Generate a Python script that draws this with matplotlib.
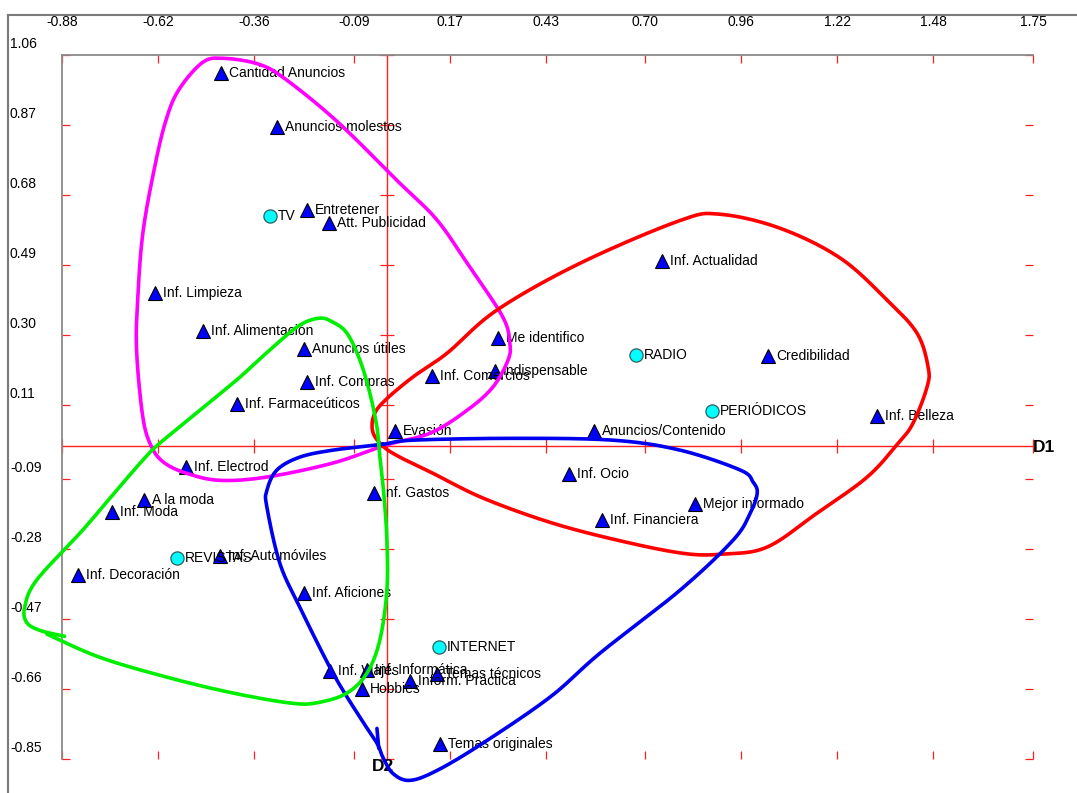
import numpy as np
import matplotlib
matplotlib.use('Agg')
import matplotlib.pyplot as plt
from matplotlib.lines import Line2D

plt.rcParams['font.family'] = ['Liberation Sans', 'DejaVu Sans']

# --- datos: categorias (triangulos) ---
cat_names = ['Cantidad Anuncios', 'Anuncios molestos', 'Entretener', 'Att. Publicidad',
             'Inf. Limpieza', 'Inf. Alimentación', 'Anuncios útiles', 'Inf. Compras',
             'Inf. Farmaceúticos', 'Evasión', 'Inf. Comercios', 'Me identifico',
             'Indispensable', 'Inf. Actualidad', 'Credibilidad', 'Anuncios/Contenido',
             'Inf. Belleza', 'Inf. Ocio', 'Inf. Gastos', 'Mejor informado',
             'Inf. Financiera', 'Inf. Electrod', 'A la moda', 'Inf. Moda',
             'Inf. Automóviles', 'Inf. Decoración', 'Inf. Aficiones', 'Inf. Viajes',
             'Inf. Informática', 'Hobbies', 'Inform. Práctica', 'Temas técnicos',
             'Temas originales']
cat_x = [-0.450, -0.298, -0.217, -0.157, -0.629, -0.499, -0.225, -0.217,
         -0.407, 0.022, 0.122, 0.301, 0.293, 0.745, 1.033, 0.561,
         1.328, 0.493, -0.035, 0.835, 0.583, -0.545, -0.659, -0.745,
         -0.453, -0.837, -0.225, -0.154, -0.054, -0.068, 0.062, 0.136,
         0.144]
cat_y = [1.010, 0.864, 0.639, 0.604, 0.414, 0.311, 0.262, 0.172,
         0.113, 0.039, 0.189, 0.292, 0.202, 0.500, 0.243, 0.039,
         0.080, -0.077, -0.129, -0.159, -0.202, -0.058, -0.148, -0.180,
         -0.300, -0.351, -0.400, -0.612, -0.609, -0.661, -0.639, -0.620,
         -0.810]

# --- medios (circulos) ---
media_names = ['TV', 'RADIO', 'PERIÓDICOS', 'REVISTAS', 'INTERNET']
media_x = [-0.317, 0.675, 0.881, -0.569, 0.141]
media_y = [0.623, 0.246, 0.094, -0.305, -0.546]

# --- ejes ---
x_labels = ['-0.88', '-0.62', '-0.36', '-0.09', '0.17', '0.43', '0.70', '0.96', '1.22', '1.48', '1.75']
y_labels = ['1.06', '0.87', '0.68', '0.49', '0.30', '0.11', '-0.09', '-0.28', '-0.47', '-0.66', '-0.85']
x_ticks = [float(v) for v in x_labels]
y_ticks = [float(v) for v in y_labels]

# --- contornos dibujados a mano ---
mag_x = [-0.005, 0.117, 0.217, 0.287, 0.328, 0.333, 0.314, 0.225, 0.136, 0.035, -0.133, -0.274,
         -0.347, -0.442, -0.499, -0.564, -0.599, -0.629, -0.661, -0.675, -0.678, -0.661, -0.637,
         -0.602, -0.542, -0.453, -0.325, -0.146]
mag_y = [0.001, 0.034, 0.096, 0.159, 0.232, 0.278, 0.349, 0.484, 0.612, 0.712, 0.878, 0.994,
         1.035, 1.051, 1.040, 0.965, 0.881, 0.756, 0.577, 0.395, 0.259, 0.077, -0.004,
         -0.047, -0.075, -0.094, -0.085, -0.047]

red_x = [-0.011, -0.038, -0.035, -0.005, 0.070, 0.163, 0.298, 0.523, 0.794, 0.902, 1.065, 1.228,
         1.355, 1.436, 1.466, 1.463, 1.425, 1.385, 1.301, 1.165, 1.030, 0.911, 0.802, 0.623,
         0.442, 0.260, 0.125, 0.035]
red_y = [-0.001, 0.037, 0.083, 0.123, 0.186, 0.251, 0.368, 0.495, 0.611, 0.628, 0.590, 0.509,
         0.395, 0.305, 0.213, 0.159, 0.061, 0.007, -0.085, -0.183, -0.275, -0.294, -0.292, -0.256,
         -0.208, -0.142, -0.075, -0.031]

blue_x = [-0.011, -0.146, -0.236, -0.298, -0.325, -0.325, -0.290, -0.236, -0.146, -0.073, -0.027,
          -0.011, 0.016, 0.062, 0.136, 0.260, 0.442, 0.577, 0.794, 0.938, 0.984, 1.003, 0.992,
          0.957, 0.794, 0.612, 0.341, 0.070]
blue_y = [0.004, -0.012, -0.031, -0.066, -0.121, -0.167, -0.319, -0.438, -0.617, -0.737, -0.807,
          -0.845, -0.889, -0.908, -0.881, -0.807, -0.682, -0.563, -0.392, -0.256, -0.183, -0.129,
          -0.099, -0.066, -0.012, 0.015, 0.020, 0.015]
hook_x = [-0.027, -0.022]
hook_y = [-0.767, -0.821]

green_x = [-0.921, -0.778, -0.596, -0.417, -0.255, -0.182, -0.108, -0.054, -0.019, 0.000, 0.000,
           -0.008, -0.019, -0.027, -0.046, -0.073, -0.108, -0.146, -0.182, -0.236, -0.309, -0.398,
           -0.507, -0.615, -0.661, -0.732, -0.824, -0.949, -0.981, -0.976, -0.940, -0.873]
green_y = [-0.511, -0.574, -0.628, -0.671, -0.699, -0.696, -0.671, -0.617, -0.527, -0.392, -0.256,
           -0.134, -0.031, 0.050, 0.142, 0.232, 0.305, 0.335, 0.346, 0.327, 0.267, 0.186,
           0.096, 0.007, -0.039, -0.121, -0.229, -0.365, -0.438, -0.479, -0.501, -0.517]


def smooth(px, py, closed, n=24):
    p = np.column_stack([px, py])
    if closed:
        p = np.vstack([p[-1], p, p[0], p[1]])
    else:
        p = np.vstack([p[0], p, p[-1]])
    t = np.linspace(0, 1, n, endpoint=False)[:, None]
    out = []
    for i in range(1, len(p) - 2):
        p0, p1, p2, p3 = p[i - 1], p[i], p[i + 1], p[i + 2]
        out.append(0.5 * (2 * p1 + (-p0 + p2) * t + (2 * p0 - 5 * p1 + 4 * p2 - p3) * t ** 2
                          + (-p0 + 3 * p1 - 3 * p2 + p3) * t ** 3))
    out.append(p[-2][None])
    s = np.vstack(out)
    return s[:, 0], s[:, 1]


W, H = 1077, 793
fig = plt.figure(figsize=(W / 100, H / 100), dpi=100)
fig.patch.set_facecolor('white')
ax = fig.add_axes([62 / W, 34 / H, 971 / W, 704 / H])
ax.set_xlim(-0.88, 1.75)
ax.set_ylim(-0.85, 1.06)

for s in ['bottom', 'right']:
    ax.spines[s].set_visible(False)
for s in ['top', 'left']:
    ax.spines[s].set_color('#8a8a8a')
    ax.spines[s].set_linewidth(1.3)

ax.set_xticks(x_ticks)
ax.set_yticks(y_ticks)
ax.tick_params(which='both', direction='in', length=5.5, width=0.9, color='#ff2020',
               top=True, right=True, bottom=True, left=True,
               labeltop=False, labelbottom=False, labelleft=False, labelright=False)

for v, lab in zip(x_ticks, x_labels):
    ax.annotate(lab, xy=(v, 1), xycoords=('data', 'axes fraction'), xytext=(0, 33),
                textcoords='offset pixels', ha='center', va='center', fontsize=10,
                annotation_clip=False)
for v, lab in zip(y_ticks, y_labels):
    ax.annotate(lab, xy=(0, v), xycoords=('axes fraction', 'data'), xytext=(-52, 11),
                textcoords='offset pixels', ha='left', va='center', fontsize=10,
                annotation_clip=False)

# ejes D1 / D2
ax.axhline(0, color='#ff2020', lw=1.0, zorder=1)
ax.axvline(0, color='#ff2020', lw=1.0, zorder=1)
ax.plot(x_ticks, np.zeros(len(x_ticks)), ls='none', marker='|', ms=10, mew=0.9,
        color='#ff2020', zorder=1, clip_on=False)
ax.plot(np.zeros(len(y_ticks)), y_ticks, ls='none', marker='_', ms=10, mew=0.9,
        color='#ff2020', zorder=1, clip_on=False)
ax.annotate('D1', xy=(1.75, 0), xytext=(0, -2), textcoords='offset pixels',
            ha='left', va='center', fontsize=12.5, fontweight='bold', annotation_clip=False)
ax.annotate('D2', xy=(0, -0.85), xytext=(-4, 0), textcoords='offset pixels',
            ha='center', va='top', fontsize=12.5, fontweight='bold', annotation_clip=False)

# puntos
ax.plot(cat_x, cat_y, ls='none', marker='^', ms=10, mfc='#0000ff', mec='black', mew=0.8, zorder=3)
ax.plot(media_x, media_y, ls='none', marker='o', ms=9.5, mfc='#00ffff', mec='#2f5f5f', mew=0.9, zorder=3)
for name, x, y in zip(cat_names + media_names, cat_x + media_x, cat_y + media_y):
    ax.annotate(name, xy=(x, y), xytext=(8, 0), textcoords='offset pixels',
                ha='left', va='center', fontsize=10, zorder=4)

# contornos
for lx, ly, col, closed in [(mag_x, mag_y, '#ff00ff', True), (red_x, red_y, '#ff0000', True),
                            (blue_x, blue_y, '#0000ee', True), (green_x, green_y, '#00ee00', False)]:
    sx, sy = smooth(lx, ly, closed)
    ax.plot(sx, sy, color=col, lw=2.6, zorder=5, clip_on=False, solid_capstyle='round')
ax.plot(hook_x, hook_y, color='#0000ee', lw=2.6, zorder=5, clip_on=False, solid_capstyle='round')

# marco exterior
fig.add_artist(Line2D([8 / W, 1], [1 - 15 / H, 1 - 15 / H], transform=fig.transFigure,
                      color='#7a7a7a', lw=1.5))
fig.add_artist(Line2D([8 / W, 8 / W], [0, 1 - 15 / H], transform=fig.transFigure,
                      color='#7a7a7a', lw=1.5))

fig.savefig('out.png', dpi=100, facecolor='white')
